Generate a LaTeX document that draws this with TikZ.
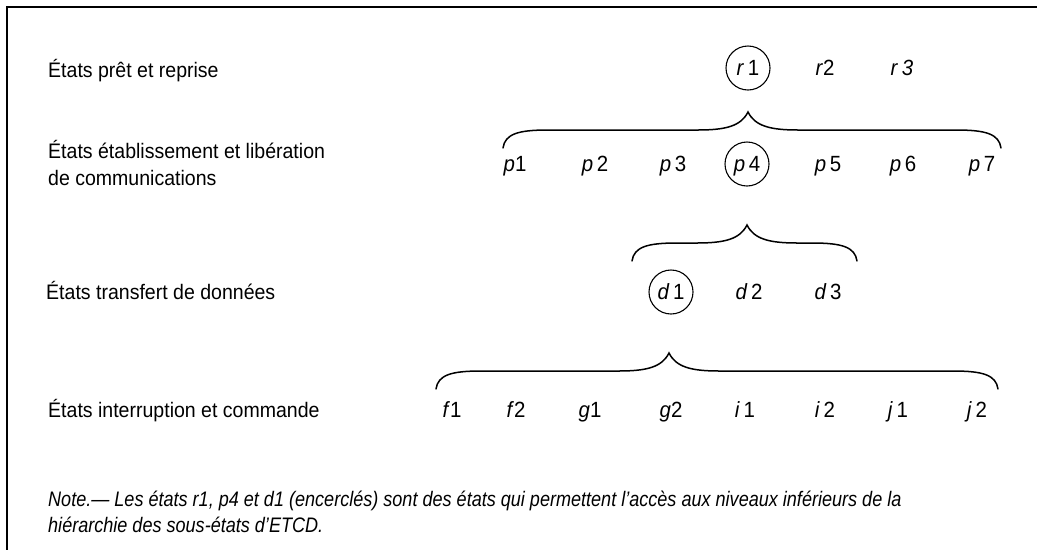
\documentclass[tikz,border=0pt]{standalone}
\usepackage{fontspec}
\setmainfont{Liberation Sans}
\newfontfamily\labelfont[FakeStretch=0.93]{Liberation Sans}
\newfontfamily\notefont[FakeStretch=0.86]{Liberation Sans}
\newcommand\drawcurlybrace[4]{% #1 left x, #2 tip x, #3 right x, #4 tip y
  \draw[bracestroke] (#1,#4+36) .. controls (#1+2,#4+22) and (#1+15,#4+18) .. (#1+45,#4+18)
    -- (#2-50,#4+18) .. controls (#2-22,#4+18) and (#2-7,#4+14) .. (#2,#4)
    .. controls (#2+7,#4+14) and (#2+22,#4+18) .. (#2+50,#4+18)
    -- (#3-45,#4+18) .. controls (#3-15,#4+18) and (#3-2,#4+22) .. (#3,#4+36);}
\begin{document}
\begin{tikzpicture}[x=1pt,y=-1pt,
  rowlabel/.style={anchor=base west,inner sep=0pt,font=\labelfont\fontsize{21}{27}\selectfont,align=left},
  statenode/.style={inner sep=0pt,text height=15pt,text depth=0pt,font=\labelfont\fontsize{22}{24}\selectfont},
  circled/.style={draw,circle,line width=1.1pt,minimum size=44pt},
  bracestroke/.style={line width=1.5pt,line cap=round},
  notetext/.style={anchor=base west,inner sep=0pt,align=left,font=\notefont\itshape\fontsize{21}{26}\selectfont}]
\useasboundingbox (0,0) rectangle (1037,550);
\fill[white] (0,0) rectangle (1037,550);
% frame
\draw[line width=1.6pt] (1037,7) -- (7,7) -- (7,550);
% row labels
\node[rowlabel] (lab1) at (48,77) {États prêt et reprise};
\node[rowlabel] (lab2) at (48,185) {États établissement et libération\\de communications};
\node[rowlabel] (lab3) at (46,299) {États transfert de données};
\node[rowlabel] (lab4) at (48,417) {États interruption et commande};
% r row
\node[statenode,circled] (r1) at (748,68) {\textit{r}\,1};
\node[statenode] (r2) at (825,68) {\textit{r}2};
\node[statenode] (r3) at (902,68) {\textit{r}\,\textit{3}};
% p row
\node[statenode] (p1) at (515,164) {\textit{p}1};
\node[statenode] (p2) at (595,164) {\textit{p}\,2};
\node[statenode] (p3) at (673,164) {\textit{p}\,3};
\node[statenode,circled] (p4) at (747,164) {\textit{p}\,4};
\node[statenode] (p5) at (828,164) {\textit{p}\,5};
\node[statenode] (p6) at (903,164) {\textit{p}\,6};
\node[statenode] (p7) at (982,164) {\textit{p}\,7};
% d row
\node[statenode,circled] (d1) at (671,292) {\textit{d}\,1};
\node[statenode] (d2) at (749,292) {\textit{d}\,2};
\node[statenode] (d3) at (828,292) {\textit{d}\,3};
% f row
\node[statenode] (f1) at (452,410) {\textit{f}1};
\node[statenode] (f2) at (516,410) {\textit{f}2};
\node[statenode] (g1) at (590,410) {\textit{g}1};
\node[statenode] (g2) at (671,410) {\textit{g}2};
\node[statenode] (i1) at (745,410) {\textit{i}\,1};
\node[statenode] (i2) at (825,410) {\textit{i}\,2};
\node[statenode] (j1) at (898,410) {\textit{j}\,1};
\node[statenode] (j2) at (977,410) {\textit{j}\,2};
% braces
\drawcurlybrace{503}{748}{1001}{112}
\drawcurlybrace{632}{747}{857}{225}
\drawcurlybrace{436}{669}{998}{353}
% note
\node[notetext] (note) at (48,532) {Note.— Les états r1, p4 et d1 (encerclés) sont des états qui permettent l’accès aux niveaux inférieurs de la\\hiérarchie des sous-états d’ETCD.};
\end{tikzpicture}
\end{document}
